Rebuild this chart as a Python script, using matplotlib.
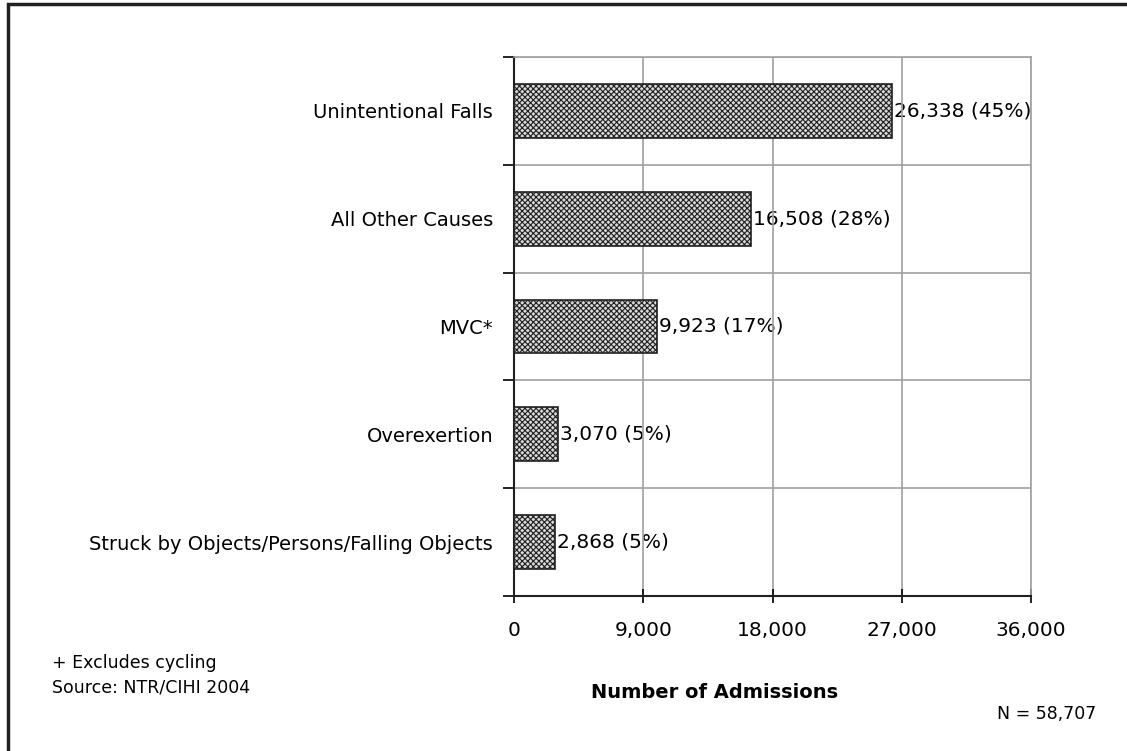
import matplotlib.pyplot as plt
from matplotlib.patches import Rectangle

plt.rcParams['font.family'] = ['DejaVu Sans']
plt.rcParams['hatch.linewidth'] = 0.8

causes = ['Unintentional Falls', 'All Other Causes', 'MVC*', 'Overexertion',
          'Struck by Objects/Persons/Falling Objects']
admissions = [26338, 16508, 9923, 3070, 2868]
pct_labels = ['26,338 (45%)', '16,508 (28%)', '9,923 (17%)', '3,070 (5%)', '2,868 (5%)']
xticks = [0, 9000, 18000, 27000, 36000]
xtick_labels = ['0', '9,000', '18,000', '27,000', '36,000']

fig = plt.figure(figsize=(11.27, 7.51), dpi=100)
# outer frame of the original picture
fig.patches.append(Rectangle((8 / 1127, -0.1), 1.2, 1 - 4 / 751 + 0.1,
                             transform=fig.transFigure, fill=False,
                             edgecolor='#202020', linewidth=2.5))

ax = fig.add_axes([514 / 1127, 1 - 596 / 751, (1031 - 514) / 1127, (596 - 57) / 751])

n = len(causes)
ypos = list(range(n))
ax.barh(ypos, admissions, height=0.5, facecolor='#d8d8d8', edgecolor='#202020',
        hatch='xxxxxx', linewidth=1.2, zorder=3)
for y, v, lab in zip(ypos, admissions, pct_labels):
    ax.text(v + 150, y, lab, va='center', ha='left', fontsize=14.5, zorder=0.4)

ax.set_xlim(0, 36000)
ax.set_ylim(n - 0.5, -0.5)
ax.set_xticks(xticks)
ax.set_xticklabels(xtick_labels, fontsize=14.5)
ax.set_yticks([i - 0.5 for i in range(n + 1)])
ax.set_yticklabels([])
ax.set_yticks(ypos, minor=True)
ax.set_yticklabels(causes, minor=True, fontsize=14)
ax.tick_params(axis='y', which='minor', length=0, pad=15)
ax.tick_params(axis='y', which='major', length=8, direction='out', width=1.2)
ax.tick_params(axis='x', length=10, direction='inout', width=1.2, pad=13)

ax.grid(True, which='major', color='#a0a0a0', linewidth=1.2, zorder=0)
ax.set_axisbelow(True)
for s in ['top', 'right']:
    ax.spines[s].set_color('#a0a0a0')
    ax.spines[s].set_linewidth(1.2)
for s in ['left', 'bottom']:
    ax.spines[s].set_color('#202020')
    ax.spines[s].set_linewidth(1.5)

fig.text(715 / 1127, 1 - 692 / 751, 'Number of Admissions', ha='center', va='center',
         fontsize=14, fontweight='bold')
fig.text(52 / 1127, 1 - 663 / 751, '+ Excludes cycling', ha='left', va='center', fontsize=12.5)
fig.text(52 / 1127, 1 - 688 / 751, 'Source: NTR/CIHI 2004', ha='left', va='center', fontsize=12.5)
fig.text(997 / 1127, 1 - 714 / 751, 'N = 58,707', ha='left', va='center', fontsize=12.5)

fig.savefig('out.png', dpi=100)
